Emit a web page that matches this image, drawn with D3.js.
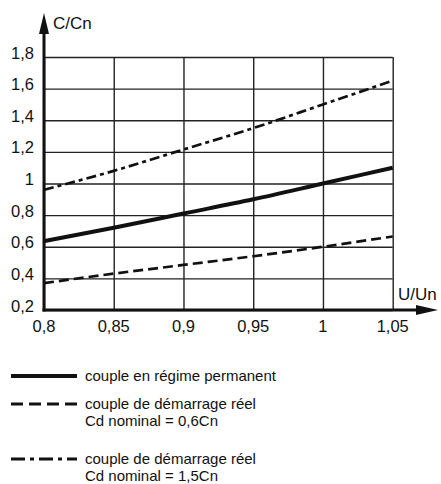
<!DOCTYPE html>
<html>
<head>
<meta charset="utf-8">
<script src="https://cdn.jsdelivr.net/npm/d3@7"></script>
<style>
  body { margin: 0; background: #fff; }
  svg { font-family: "Liberation Sans", Arial, Helvetica, sans-serif; }
</style>
</head>
<body>
<script>
// values
var xTicks = [0.8, 0.85, 0.9, 0.95, 1.0, 1.05];
var xLabels = ["0,8", "0,85", "0,9", "0,95", "1", "1,05"];
var yTicks = [0.2, 0.4, 0.6, 0.8, 1.0, 1.2, 1.4, 1.6, 1.8];
var yLabels = ["0,2", "0,4", "0,6", "0,8", "1", "1,2", "1,4", "1,6", "1,8"];

var permanent = [0.635, 0.72, 0.81, 0.90, 1.0, 1.10];
var demarrage06 = [0.37, 0.43, 0.485, 0.54, 0.60, 0.665];
var demarrage15 = [0.96, 1.08, 1.215, 1.35, 1.5, 1.65];

var series = [
  { name: ["couple en régime permanent"], values: permanent, width: 4, dash: null, legDash: null },
  { name: ["couple de démarrage réel", "Cd nominal = 0,6Cn"], values: demarrage06, width: 2.7, dash: "10,5", legDash: "12,6" },
  { name: ["couple de démarrage réel", "Cd nominal = 1,5Cn"], values: demarrage15, width: 2.7, dash: "10,4,4,4", legDash: "14,5,4,5" }
];

var w = 441, h = 484;
var x = d3.scaleLinear().domain([0.8, 1.05]).range([44, 392.7]);
var y = d3.scaleLinear().domain([0.2, 1.8]).range([310, 57]);

var svg = d3.select("body").append("svg")
  .attr("width", w)
  .attr("height", h);

// grid
svg.append("g")
  .attr("transform", "translate(0," + y(0.2) + ")")
  .call(d3.axisBottom(x).tickValues(xTicks).tickSize(-(y(0.2) - y(1.8))).tickFormat(""))
  .call(function(g) { g.select(".domain").remove(); })
  .selectAll("line").attr("stroke", "#222").attr("stroke-width", 1.4);

svg.append("g")
  .attr("transform", "translate(" + x(0.8) + ",0)")
  .call(d3.axisLeft(y).tickValues(yTicks).tickSize(-(x(1.05) - x(0.8))).tickFormat(""))
  .call(function(g) { g.select(".domain").remove(); })
  .selectAll("line").attr("stroke", "#222").attr("stroke-width", 1.4);

// tick labels
svg.selectAll(".ylab")
  .data(yTicks)
  .enter()
  .append("text")
  .attr("x", 34)
  .attr("y", function(d) { return y(d) + 1.5; })
  .attr("text-anchor", "end")
  .style("font-size", "16.5px")
  .attr("fill", "#111")
  .text(function(d, i) { return yLabels[i]; });

svg.selectAll(".xlab")
  .data(xTicks)
  .enter()
  .append("text")
  .attr("x", function(d) { return x(d); })
  .attr("y", 332)
  .attr("text-anchor", "middle")
  .style("font-size", "16.5px")
  .attr("fill", "#111")
  .text(function(d, i) { return xLabels[i]; });

// curves
var line = d3.line()
  .x(function(d, i) { return x(xTicks[i]); })
  .y(function(d) { return y(d); })
  .curve(d3.curveMonotoneX);

series.forEach(function(s) {
  svg.append("path")
    .datum(s.values)
    .attr("d", line)
    .attr("fill", "none")
    .attr("stroke", "#111")
    .attr("stroke-width", s.width)
    .attr("stroke-dasharray", s.dash);
});

// axes with arrows
svg.append("line")
  .attr("x1", x(0.8)).attr("y1", y(0.2) + 1.5)
  .attr("x2", x(0.8)).attr("y2", 30)
  .attr("stroke", "#111").attr("stroke-width", 3);
svg.append("path")
  .attr("d", "M" + x(0.8) + ",13 L" + (x(0.8) - 5) + ",34 L" + (x(0.8) + 5) + ",34 Z")
  .attr("fill", "#111");

svg.append("line")
  .attr("x1", x(0.8) - 1.5).attr("y1", y(0.2))
  .attr("x2", 420).attr("y2", y(0.2))
  .attr("stroke", "#111").attr("stroke-width", 3);
svg.append("path")
  .attr("d", "M438," + y(0.2) + " L416," + (y(0.2) - 5) + " L416," + (y(0.2) + 5) + " Z")
  .attr("fill", "#111");

svg.append("text")
  .attr("x", 53).attr("y", 29)
  .style("font-size", "17px").attr("fill", "#111")
  .text("C/Cn");
svg.append("text")
  .attr("x", 398).attr("y", 300)
  .style("font-size", "17px").attr("fill", "#111")
  .text("U/Un");

// legend
var legY = [376, 404, 459];
var leg = svg.selectAll(".leg")
  .data(series)
  .enter()
  .append("g")
  .attr("transform", function(d, i) { return "translate(0," + legY[i] + ")"; });

leg.append("line")
  .attr("x1", 11).attr("x2", 77)
  .attr("y1", 0).attr("y2", 0)
  .attr("stroke", "#111")
  .attr("stroke-width", function(d) { return d.width === 4 ? 4 : 3; })
  .attr("stroke-dasharray", function(d) { return d.legDash; });

leg.each(function(d) {
  var g = d3.select(this);
  d.name.forEach(function(t, j) {
    g.append("text")
      .attr("x", 85)
      .attr("y", 4.5 + j * 17.5)
      .style("font-size", "15px")
      .attr("fill", "#111")
      .text(t);
  });
});
</script>
</body>
</html>
